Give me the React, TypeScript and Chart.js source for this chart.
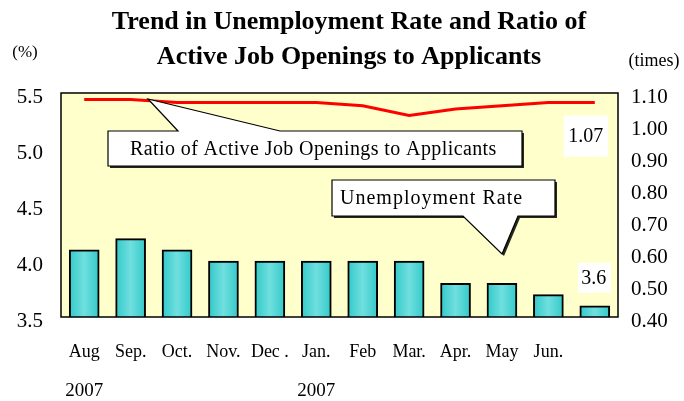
import React, { useEffect, useRef } from "react";
import { Chart, registerables } from "chart.js";

Chart.register(...registerables);

const categories = ["Aug", "Sep.", "Oct.", "Nov.", "Dec .", "Jan.", "Feb", "Mar.", "Apr.", "May", "Jun.", ""];
const yearLabels = ["2007", "", "", "", "", "2007", "", "", "", "", "", ""];
const unemploymentRate = [4.1, 4.2, 4.1, 4.0, 4.0, 4.0, 4.0, 4.0, 3.8, 3.8, 3.7, 3.6];
const jobRatio = [1.08, 1.08, 1.07, 1.07, 1.07, 1.07, 1.06, 1.03, 1.05, 1.06, 1.07, 1.07];
const titleLines = ["Trend in Unemployment Rate and Ratio of", "Active Job Openings to Applicants"];
const ratioCallout = "Ratio of Active Job Openings to Applicants";
const rateCallout = "Unemployment Rate";

const SERIF = "'Liberation Serif', 'Times New Roman', serif";

const decorPlugin = {
  id: "decor",
  beforeDatasetsDraw(chart: any) {
    const { ctx, chartArea: a } = chart;
    ctx.save();
    ctx.fillStyle = "#ffffcc";
    ctx.fillRect(a.left, a.top, a.right - a.left, a.bottom - a.top);
    ctx.restore();
  },
  afterDraw(chart: any) {
    const { ctx, chartArea: a, scales } = chart;
    ctx.save();
    ctx.strokeStyle = "#000";
    ctx.lineWidth = 1.5;
    ctx.strokeRect(a.left, a.top, a.right - a.left, a.bottom - a.top);

    ctx.fillStyle = "#000";
    ctx.textAlign = "center";
    ctx.textBaseline = "middle";
    ctx.font = `bold 26px ${SERIF}`;
    ctx.fillText(titleLines[0], 349, 22);
    ctx.fillText(titleLines[1], 349, 57);

    ctx.font = `17px ${SERIF}`;
    ctx.fillText("(%)", 25, 53);
    ctx.font = `18px ${SERIF}`;
    ctx.fillText("(times)", 654, 61);

    ctx.font = `19px ${SERIF}`;
    yearLabels.forEach((t, i) => {
      if (!t) return;
      ctx.fillText(t, scales.x.getPixelForValue(i), 391);
    });

    const callout = (box: number[], ptr: number[], text: string, tx0: number, spacing: number) => {
      const [l, t, r, b] = box;
      const [bx1, bx2, tx, ty, onTop] = ptr;
      ctx.beginPath();
      ctx.moveTo(l, t);
      if (onTop) {
        ctx.lineTo(bx1, t);
        ctx.lineTo(tx, ty);
        ctx.lineTo(bx2, t);
      }
      ctx.lineTo(r, t);
      ctx.lineTo(r, b);
      if (!onTop) {
        ctx.lineTo(bx2, b);
        ctx.lineTo(tx, ty);
        ctx.lineTo(bx1, b);
      }
      ctx.lineTo(l, b);
      ctx.closePath();
      ctx.save();
      ctx.shadowColor = "rgba(0,0,0,0.85)";
      ctx.shadowOffsetX = 2;
      ctx.shadowOffsetY = 2;
      ctx.fillStyle = "#fff";
      ctx.fill();
      ctx.restore();
      ctx.lineWidth = 1.2;
      ctx.strokeStyle = "#000";
      ctx.stroke();
      ctx.save();
      ctx.fillStyle = "#000";
      ctx.font = `20px ${SERIF}`;
      (ctx as any).letterSpacing = `${spacing}px`;
      ctx.textAlign = "left";
      ctx.textBaseline = "middle";
      ctx.fillText(text, tx0, (t + b) / 2 + 1);
      ctx.restore();
    };
    const ox = a.left, oy = a.top;
    callout([ox + 47, oy + 38, ox + 461, oy + 73], [ox + 117, ox + 219, ox + 87, oy + 6, 1], ratioCallout, ox + 69, 0.4);
    callout([ox + 271, oy + 87, ox + 494, oy + 123], [ox + 402, ox + 457, ox + 441, oy + 161, 0], rateCallout, ox + 279, 1.0);

    const last = unemploymentRate.length - 1;
    const xl = scales.x.getPixelForValue(last);
    const yr = scales.y1.getPixelForValue(jobRatio[last]);
    const yb = scales.y.getPixelForValue(unemploymentRate[last]);
    ctx.fillStyle = "#fff";
    ctx.fillRect(xl - 31, yr + 13, 44, 41);
    ctx.fillRect(xl - 17, yb - 43, 33, 30);
    ctx.fillStyle = "#000";
    ctx.textAlign = "center";
    ctx.font = `20px ${SERIF}`;
    ctx.fillText(jobRatio[last].toFixed(2), xl - 9, yr + 34);
    ctx.fillText(unemploymentRate[last].toFixed(1), xl - 1, yb - 27);
    ctx.restore();
  },
};

export default function App() {
  const ref = useRef<HTMLCanvasElement>(null);
  useEffect(() => {
    document.body.style.margin = "0";
    const chart = new Chart(ref.current!, {
      type: "bar",
      data: {
        labels: categories,
        datasets: [
          {
            type: "line",
            label: "Ratio",
            data: jobRatio,
            yAxisID: "y1",
            borderColor: "#ff0000",
            borderWidth: 3,
            pointRadius: 0,
            tension: 0,
            order: 0,
          } as any,
          {
            type: "bar",
            label: "Unemployment Rate",
            data: unemploymentRate,
            yAxisID: "y",
            barThickness: 30,
            borderColor: "#000",
            borderWidth: 2,
            borderSkipped: false,
            order: 1,
            backgroundColor: (c: any) => {
              const ch = c.chart;
              const xs = ch.scales && ch.scales.x;
              if (!xs || c.dataIndex === undefined) return "#4fd4d4";
              const x = xs.getPixelForValue(c.dataIndex);
              if (!Number.isFinite(x)) return "#4fd4d4";
              const g = ch.ctx.createLinearGradient(x - 15, 0, x + 15, 0);
              g.addColorStop(0, "#33c9c9");
              g.addColorStop(0.5, "#70dfdf");
              g.addColorStop(1, "#33c9c9");
              return g;
            },
          } as any,
        ],
      },
      options: {
        responsive: false,
        animation: false,
        layout: { padding: { top: 93, left: 0, right: 0, bottom: 0 } },
        plugins: { legend: { display: false }, tooltip: { enabled: false }, title: { display: false } },
        scales: {
          x: {
            grid: { display: false, drawTicks: false },
            border: { display: false },
            ticks: {
              autoSkip: false,
              maxRotation: 0,
              padding: 24,
              color: "#000",
              font: { family: SERIF, size: 18 },
            },
            afterFit: (s: any) => { s.height = 84; },
          },
          y: {
            position: "left",
            min: 3.5,
            max: 5.5,
            grid: { display: false, drawTicks: false },
            border: { display: false },
            ticks: {
              stepSize: 0.5,
              padding: 18,
              labelOffset: 4,
              color: "#000",
              font: { family: SERIF, size: 21 },
              callback: (v: any) => Number(v).toFixed(1),
            },
            afterFit: (s: any) => { s.width = 61; },
          },
          y1: {
            position: "right",
            min: 0.4,
            max: 1.1,
            grid: { display: false, drawTicks: false },
            border: { display: false },
            ticks: {
              stepSize: 0.1,
              padding: 13,
              labelOffset: 4,
              color: "#000",
              font: { family: SERIF, size: 21 },
              callback: (v: any) => Number(v).toFixed(2),
            },
            afterFit: (s: any) => { s.width = 66; },
          },
        },
      },
      plugins: [decorPlugin],
    });
    return () => chart.destroy();
  }, []);
  return <canvas ref={ref} width={684} height={401} style={{ display: "block" }} />;
}
